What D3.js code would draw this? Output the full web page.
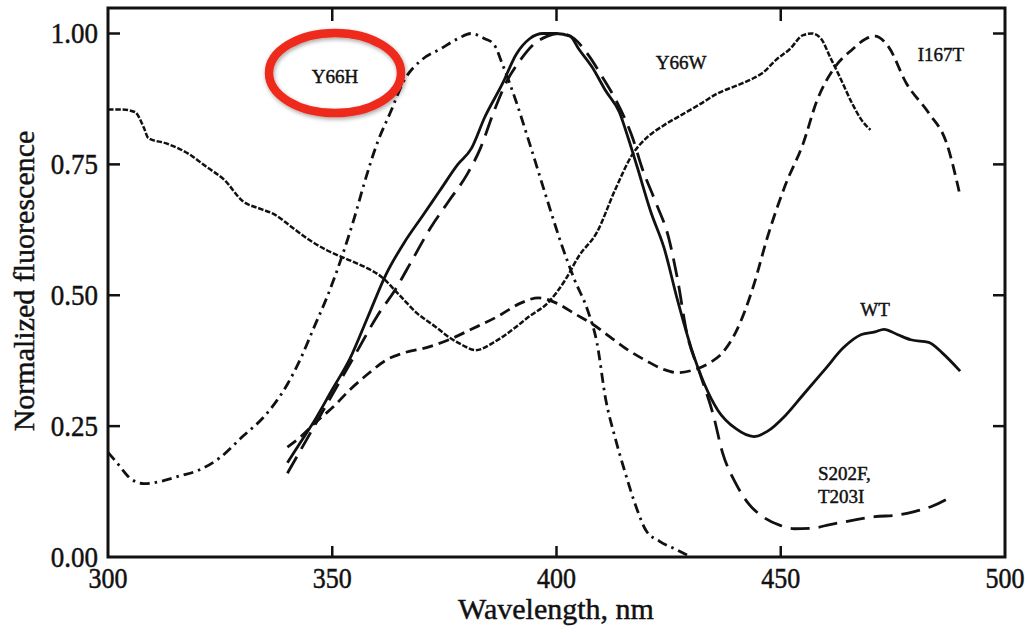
<!DOCTYPE html>
<html>
<head>
<meta charset="utf-8">
<script src="https://cdn.jsdelivr.net/npm/d3@7"></script>
<style>
  body { margin: 0; background: #fff; }
  svg { display: block; }
  text { font-family: "Liberation Serif", "Times New Roman", serif; fill: #111; stroke: #111; stroke-width: 0.45px; }
</style>
</head>
<body>
<svg width="1025" height="633"></svg>
<script>
// spectra: [wavelength nm, normalized fluorescence]
var y66h = [[300,0.20],[302,0.18],[305,0.15],[308,0.14],[312,0.145],[316,0.155],[320,0.165],[325,0.19],
  [330,0.23],[335,0.27],[340,0.33],[343,0.38],[346,0.44],[349,0.50],[352,0.57],[355,0.65],[357,0.71],
  [360,0.79],[363,0.85],[366,0.91],[370,0.95],[374,0.97],[378,0.99],[381,1.00],[384,0.99],[386,0.98],
  [388,0.94],[391,0.87],[394,0.79],[398,0.68],[401,0.60],[404,0.53],[407,0.47],[409,0.41],[411,0.30],
  [413,0.23],[415,0.17],[418,0.09],[420,0.05],[423,0.03],[427,0.013],[430,0.0]];

var wt = [[340,0.18],[343,0.22],[346,0.26],[350,0.32],[354,0.38],[358,0.46],[362,0.54],[366,0.60],
  [370,0.65],[374,0.70],[378,0.75],[381,0.78],[384,0.84],[388,0.905],[391,0.96],[394,0.99],[397,1.0],
  [400,1.0],[403,0.995],[405,0.97],[408,0.935],[411,0.89],[414,0.85],[416,0.80],[418,0.745],[421,0.66],
  [424,0.59],[427,0.49],[430,0.40],[433,0.33],[436,0.28],[440,0.245],[444,0.23],[447,0.24],[451,0.27],
  [455,0.31],[460,0.36],[464,0.40],[468,0.425],[471,0.43],[473,0.435],[476,0.425],[479,0.415],
  [483,0.41],[486,0.39],[490,0.355]];

var s202f = [[340,0.16],[344,0.22],[348,0.28],[352,0.34],[356,0.40],[360,0.46],[364,0.51],[368,0.57],
  [372,0.63],[376,0.68],[380,0.73],[383,0.78],[386,0.85],[389,0.91],[392,0.95],[395,0.98],[398,0.995],
  [401,1.0],[404,0.99],[407,0.96],[410,0.92],[414,0.86],[417,0.80],[419,0.745],[422,0.68],[425,0.61],
  [427,0.53],[429,0.43],[432,0.35],[435,0.27],[437,0.20],[440,0.14],[443,0.10],[446,0.077],[450,0.06],
  [453,0.054],[457,0.055],[461,0.062],[466,0.07],[471,0.077],[476,0.08],[480,0.087],[484,0.098],[488,0.115]];

var y66w = [[300,0.855],[303,0.855],[306,0.85],[308,0.82],[309,0.80],[313,0.79],[318,0.77],[322,0.745],
  [326,0.72],[330,0.68],[334,0.665],[337,0.655],[341,0.63],[345,0.605],[349,0.585],[353,0.57],[357,0.555],
  [361,0.535],[365,0.50],[369,0.465],[373,0.44],[376,0.42],[379,0.405],[382,0.395],[386,0.41],[390,0.433],
  [394,0.46],[398,0.485],[402,0.53],[405,0.575],[409,0.62],[413,0.70],[417,0.77],[420,0.80],[424,0.825],
  [428,0.845],[432,0.865],[436,0.886],[440,0.90],[444,0.915],[446,0.925],[449,0.95],[452,0.97],[455,0.997],
  [457,1.0],[459,0.99],[461,0.955],[463,0.92],[466,0.865],[468,0.835],[470,0.816]];

var i167t = [[340,0.21],[343,0.23],[346,0.255],[350,0.285],[354,0.32],[358,0.35],[362,0.376],[366,0.39],
  [371,0.40],[376,0.415],[381,0.435],[387,0.46],[392,0.485],[396,0.495],[400,0.485],[404,0.465],[408,0.445],
  [412,0.42],[416,0.395],[420,0.375],[424,0.358],[427,0.352],[430,0.356],[434,0.37],[437,0.39],[440,0.43],
  [442,0.47],[444,0.52],[447,0.61],[451,0.71],[455,0.79],[458,0.87],[462,0.935],[466,0.97],[469,0.99],
  [471,0.995],[474,0.975],[478,0.905],[483,0.848],[487,0.79],[490,0.69]];

var xTicks = [300, 350, 400, 450, 500];
var yTicks = [0, 0.25, 0.5, 0.75, 1.0];

var svg = d3.select("svg");

var x = d3.scaleLinear().domain([300, 500]).range([108, 1005]);
var y = d3.scaleLinear().domain([0, 1]).range([557, 33.5]);

// frame
svg.append("rect")
    .attr("x", x(300)).attr("y", 8)
    .attr("width", x(500) - x(300)).attr("height", y(0) - 8)
    .attr("fill", "none").attr("stroke", "#111").attr("stroke-width", 3);

// inward ticks on all four sides
var inner = xTicks.slice(1, -1);
svg.append("g").selectAll("line.bt").data(inner).enter().append("line")
    .attr("x1", d => x(d)).attr("x2", d => x(d))
    .attr("y1", y(0)).attr("y2", y(0) - 11)
    .attr("stroke", "#111").attr("stroke-width", 2.5);
svg.append("g").selectAll("line.tt").data(inner).enter().append("line")
    .attr("x1", d => x(d)).attr("x2", d => x(d))
    .attr("y1", 8).attr("y2", 21)
    .attr("stroke", "#111").attr("stroke-width", 2.5);
svg.append("g").selectAll("line.lt").data(yTicks.slice(1)).enter().append("line")
    .attr("x1", x(300)).attr("x2", x(300) + 12)
    .attr("y1", d => y(d)).attr("y2", d => y(d))
    .attr("stroke", "#111").attr("stroke-width", 2.5);
svg.append("g").selectAll("line.rt").data(yTicks.slice(1)).enter().append("line")
    .attr("x1", x(500)).attr("x2", x(500) - 12)
    .attr("y1", d => y(d)).attr("y2", d => y(d))
    .attr("stroke", "#111").attr("stroke-width", 2.5);

// tick labels
svg.append("g").selectAll("text").data(xTicks).enter().append("text")
    .attr("transform", d => "translate(" + x(d) + ",588) scale(1,1.12)")
    .attr("text-anchor", "middle")
    .style("font-size", "26px")
    .text(d => d);
svg.append("g").selectAll("text").data(yTicks).enter().append("text")
    .attr("transform", d => "translate(98," + (y(d) + 9.5) + ") scale(1,1.12)")
    .attr("text-anchor", "end")
    .style("font-size", "27px")
    .text(d => d3.format(".2f")(d));

// axis titles
svg.append("text")
    .attr("transform", "translate(556,619)")
    .attr("text-anchor", "middle")
    .style("font-size", "30px")
    .text("Wavelength, nm");
svg.append("text")
    .attr("transform", "translate(34,281) rotate(-90)")
    .attr("text-anchor", "middle")
    .style("font-size", "30px")
    .text("Normalized fluorescence");

// curves
var line = d3.line()
    .x(d => x(d[0]))
    .y(d => y(d[1]))
    .curve(d3.curveMonotoneX);

function curve(data, dash, w) {
    svg.append("path")
        .datum(data)
        .attr("d", line)
        .attr("fill", "none")
        .attr("stroke", "#111")
        .attr("stroke-width", w)
        .attr("stroke-dasharray", dash)
        .attr("stroke-linejoin", "round");
}

curve(y66w, "5.5,1.8", 2.5);
curve(i167t, "11,6", 2.8);
curve(y66h, "10,5,2.5,5", 2.8);
curve(s202f, "19,9", 2.8);
curve(wt, null, 2.8);

// curve labels
var labels = svg.append("g").style("font-size", "19px");
labels.append("text").attr("x", 335).attr("y", 83).attr("text-anchor", "middle").text("Y66H");
labels.append("text").attr("x", 681).attr("y", 69).attr("text-anchor", "middle").text("Y66W");
labels.append("text").attr("x", 941).attr("y", 61).attr("text-anchor", "middle").text("I167T");
labels.append("text").attr("x", 875).attr("y", 316).attr("text-anchor", "middle").text("WT");
labels.append("text").attr("x", 818).attr("y", 480).text("S202F,");
labels.append("text").attr("x", 818).attr("y", 503).text("T203I");

// red highlight ring around Y66H
var defs = svg.append("defs");
var f = defs.append("filter").attr("id", "shadow")
    .attr("x", "-20%").attr("y", "-30%").attr("width", "140%").attr("height", "160%");
f.append("feDropShadow").attr("dx", 1).attr("dy", 2).attr("stdDeviation", 2)
    .attr("flood-color", "#000").attr("flood-opacity", 0.35);

svg.append("ellipse")
    .attr("cx", 335).attr("cy", 73)
    .attr("rx", 66).attr("ry", 40)
    .attr("fill", "none")
    .attr("stroke", "#ee2b1c")
    .attr("stroke-width", 8.5)
    .attr("filter", "url(#shadow)");
</script>
</body>
</html>
